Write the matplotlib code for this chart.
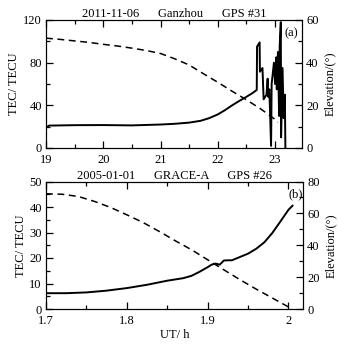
import matplotlib
matplotlib.use("Agg")
import matplotlib.pyplot as plt
from matplotlib.ticker import MultipleLocator

plt.rcParams["font.family"] = ["Liberation Serif", "DejaVu Serif"]
plt.rcParams["font.size"] = 9

# Panel (a): Ganzhou, GPS #31
ut_a = [19.0, 19.03, 19.05, 19.5, 20.0, 20.5, 21.0, 21.25, 21.5, 21.7, 21.85, 22.0, 22.12,
        22.25, 22.38, 22.5, 22.6, 22.68,
        22.685, 22.73, 22.735, 22.78, 22.79, 22.8, 22.85, 22.87, 22.88, 22.9, 22.93, 22.94,
        22.98, 23.0, 23.02, 23.03, 23.05, 23.07, 23.08, 23.1, 23.105, 23.13, 23.15, 23.17, 23.18]
tec_a = [20.0, 20.0, 21.0, 21.4, 21.5, 21.2, 22.0, 22.7, 23.8, 25.5, 28.0, 31.5, 35.3,
         40.0, 44.3, 48.0, 51.3, 54.4,
         95.0, 99.0, 71.5, 75.0, 60.0, 45.6, 50.0, 65.0, 48.0, 55.0, 2.0, 60.0,
         80.0, 60.0, 85.0, 55.0, 90.0, 30.0, 95.0, 118.0, 10.0, 75.0, 28.0, 50.0, 0.0]
ut_a_elev = [19.0, 19.25, 19.5, 19.75, 20.0, 20.25, 20.5, 20.75, 21.0, 21.25, 21.5, 21.75,
             22.0, 22.25, 22.5, 22.75, 23.0, 23.05]
elev_a = [51.5, 50.9, 50.2, 49.5, 48.6, 47.8, 46.8, 45.7, 44.3, 41.8, 38.9, 34.8,
          30.8, 26.6, 22.6, 18.3, 13.4, 12.0]

# Panel (b): GRACE-A, GPS #26
ut_b = [1.7, 1.725, 1.75, 1.775, 1.8, 1.825, 1.85, 1.87, 1.88, 1.89, 1.9, 1.905, 1.91,
        1.915, 1.92, 1.925, 1.93, 1.94, 1.95, 1.96, 1.97, 1.98, 1.99, 2.0, 2.005]
tec_b = [6.2, 6.2, 6.5, 7.2, 8.2, 9.5, 11.1, 12.1, 13.0, 14.6, 16.4, 17.4, 17.8, 17.4,
         19.0, 19.1, 19.1, 20.4, 21.7, 23.6, 26.1, 29.8, 34.3, 38.9, 40.5]
ut_b_elev = [1.7, 1.72, 1.74, 1.76, 1.78, 1.8, 1.82, 1.84, 1.86, 1.88, 1.9, 1.92, 1.94,
             1.96, 1.98, 2.0]
elev_b = [72.3, 72.0, 70.6, 67.5, 63.7, 59.1, 54.3, 48.7, 42.8, 37.2, 30.9, 24.6, 18.4,
          12.5, 6.9, 1.3]


def style(ax, ax2):
    for a in (ax, ax2):
        a.tick_params(which="both", direction="in", labelsize=9, width=0.9)
        a.tick_params(which="major", length=5)
        a.tick_params(which="minor", length=3)
        a.tick_params(axis="y", pad=3)
        a.tick_params(axis="x", pad=4.5)
    ax.tick_params(which="both", top=True, right=False)
    ax2.tick_params(which="both", left=False, right=True)


fig = plt.figure(figsize=(3.47, 3.48), dpi=100)
dash = (0, (4.5, 3))
gap = "      "

# (a)
ax = fig.add_axes([46 / 347, 1 - 148 / 348, 256 / 347, 128 / 348])
ax2 = ax.twinx()
ax.plot(ut_a, tec_a, color="black", lw=1.4)
ax2.plot(ut_a_elev, elev_a, color="black", lw=1.1, ls=dash)
ax.set_xlim(19, 23.47)
ax.set_ylim(0, 120)
ax2.set_ylim(0, 60)
ax.xaxis.set_major_locator(MultipleLocator(1))
ax.xaxis.set_minor_locator(MultipleLocator(0.5))
ax.yaxis.set_major_locator(MultipleLocator(40))
ax.yaxis.set_minor_locator(MultipleLocator(20))
ax2.yaxis.set_major_locator(MultipleLocator(20))
ax2.yaxis.set_minor_locator(MultipleLocator(10))
style(ax, ax2)
ax.set_ylabel("TEC/ TECU", labelpad=2)
ax2.set_ylabel("Elevation/(°)", labelpad=4)
ax.set_title(f"2011-11-06{gap}Ganzhou{gap}GPS #31", fontsize=9, pad=1.5)
ax.text(0.985, 0.94, "(a)", transform=ax.transAxes, ha="right", va="top")

# (b)
bx = fig.add_axes([46 / 347, 1 - 309 / 348, 257 / 347, 127.5 / 348])
bx2 = bx.twinx()
bx.plot(ut_b, tec_b, color="black", lw=1.4)
bx2.plot(ut_b_elev, elev_b, color="black", lw=1.1, ls=dash)
bx.set_xlim(1.7, 2.018)
bx.set_ylim(0, 50)
bx2.set_ylim(0, 80)
bx.xaxis.set_major_locator(MultipleLocator(0.1))
bx.xaxis.set_minor_locator(MultipleLocator(0.05))
bx.yaxis.set_major_locator(MultipleLocator(10))
bx.yaxis.set_minor_locator(MultipleLocator(5))
bx2.yaxis.set_major_locator(MultipleLocator(20))
bx2.yaxis.set_minor_locator(MultipleLocator(10))
bx.xaxis.set_major_formatter(plt.FuncFormatter(lambda v, p: f"{v:g}"))
style(bx, bx2)
bx.set_ylabel("TEC/ TECU", labelpad=2)
bx2.set_ylabel("Elevation/(°)", labelpad=4)
bx.set_xlabel("UT/ h", labelpad=1.5)
bx.set_title(f"2005-01-01{gap}GRACE-A{gap}GPS #26", fontsize=9, pad=1)
bx.text(1.0, 0.95, "(b)", transform=bx.transAxes, ha="right", va="top")

fig.savefig("out.png", dpi=100)
